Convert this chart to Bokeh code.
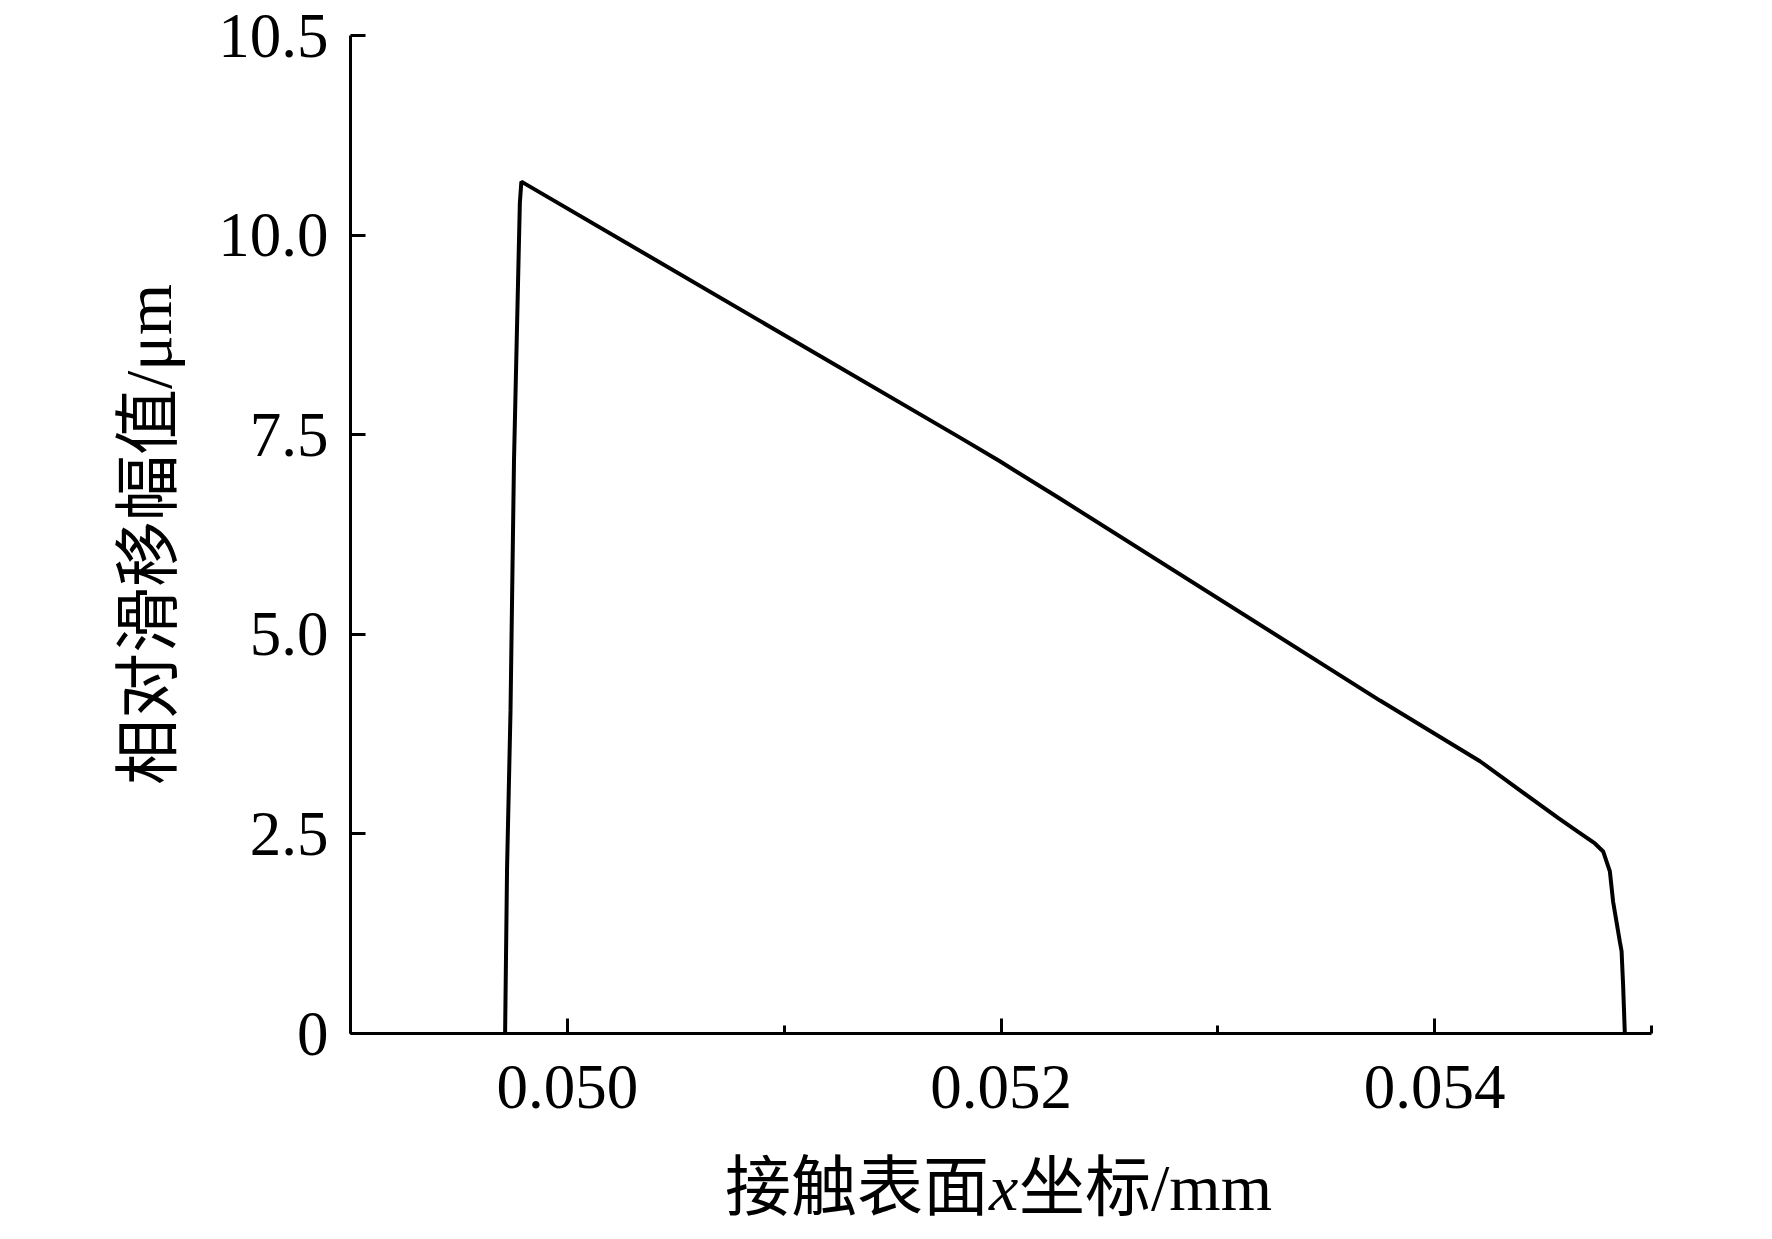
from bokeh.plotting import figure
from bokeh.layouts import column
from bokeh.models import Range1d, FixedTicker, NumeralTickFormatter
from bokeh.core.properties import value
from bokeh.embed import file_html
from bokeh.resources import INLINE

# data: contact surface x (mm) vs relative slip amplitude (um)
x_mm = [0.049713, 0.049722, 0.049738, 0.049754, 0.049775, 0.049781, 0.049788,
        0.051813, 0.051993, 0.052266, 0.053748, 0.054209, 0.054569, 0.054670,
        0.054739, 0.054777, 0.054808, 0.054823, 0.054854, 0.054862, 0.054869, 0.054877]
slip_um = [0, 2.07, 4.05, 7.17, 9.69, 10.40, 10.67,
           7.46, 7.17, 6.71, 4.17, 3.41, 2.70, 2.51,
           2.38, 2.28, 2.03, 1.65, 1.15, 1.03, 0.61, 0]

x_ticks = [0.050, 0.052, 0.054]
x_minor = [0.049, 0.051, 0.053, 0.055]
y_ticks = [0, 2.5, 5.0, 7.5, 10.0, 12.5]
y_tick_labels = ["0", "2.5", "5.0", "7.5", "10.0", "10.5"]
x_title = ["接触表面", "x", "坐标/mm"]

SERIF = "Liberation Serif, Noto Sans CJK SC"
W = 1756

p = figure(width=W, height=1132, output_backend="svg", toolbar_location=None,
           x_range=Range1d(0.049, 0.055), y_range=Range1d(0, 12.5),
           min_border_left=350, min_border_right=105, min_border_top=35, min_border_bottom=99)
p.outline_line_color = None
p.grid.visible = False
p.background_fill_color = "white"
p.border_fill_color = "white"

p.line(x_mm, slip_um, line_color="black", line_width=4)

for ax in (p.xaxis[0], p.yaxis[0]):
    ax.axis_line_width = 3
    ax.axis_line_color = "black"
    ax.major_tick_in = 15
    ax.major_tick_out = 0
    ax.major_tick_line_width = 3
    ax.minor_tick_in = 8
    ax.minor_tick_out = 0
    ax.minor_tick_line_width = 3
    ax.major_label_text_font = "Liberation Serif"
    ax.major_label_text_font_size = "63px"
    ax.major_label_text_color = "black"

p.xaxis.major_label_standoff = 32
p.yaxis.major_label_standoff = 22

p.xaxis.ticker = FixedTicker(ticks=x_ticks, minor_ticks=x_minor)
p.xaxis.formatter = NumeralTickFormatter(format="0.000")

p.yaxis.ticker = FixedTicker(ticks=y_ticks, minor_ticks=[])
p.yaxis.major_label_overrides = dict(zip(y_ticks, y_tick_labels))
p.yaxis.axis_label = "相对滑移幅值/μm"
p.yaxis.axis_label_text_font = SERIF
p.yaxis.axis_label_text_font_size = "66px"
p.yaxis.axis_label_text_font_style = "normal"
p.yaxis.axis_label_text_color = "black"
p.yaxis.axis_label_standoff = 30

# strip below the chart for the x axis title, sharing the x range, so the x can be italic
t = figure(width=W, height=91, output_backend="svg", toolbar_location=None,
           x_range=p.x_range, y_range=Range1d(0, 91),
           min_border=0, x_axis_type=None, y_axis_type=None)
t.outline_line_color = None
t.grid.visible = False
t.border_fill_color = "white"

mid = (x_ticks[0] + x_ticks[-1]) / 2
ty = 36
common = dict(x=[mid], y=[ty], text_baseline="middle", text_font_size="66px", text_color="black")
t.text(text=[x_title[0]], x_offset=-12, text_align="right", text_font=value(SERIF), **common)
t.text(text=[x_title[1]], x_offset=-12, text_align="left", text_font=value("Liberation Serif"),
       text_font_style="italic", **common)
t.text(text=[x_title[2]], x_offset=18, text_align="left", text_font=value(SERIF), **common)

open("out.html", "w").write(file_html(column(p, t, spacing=0), INLINE))
